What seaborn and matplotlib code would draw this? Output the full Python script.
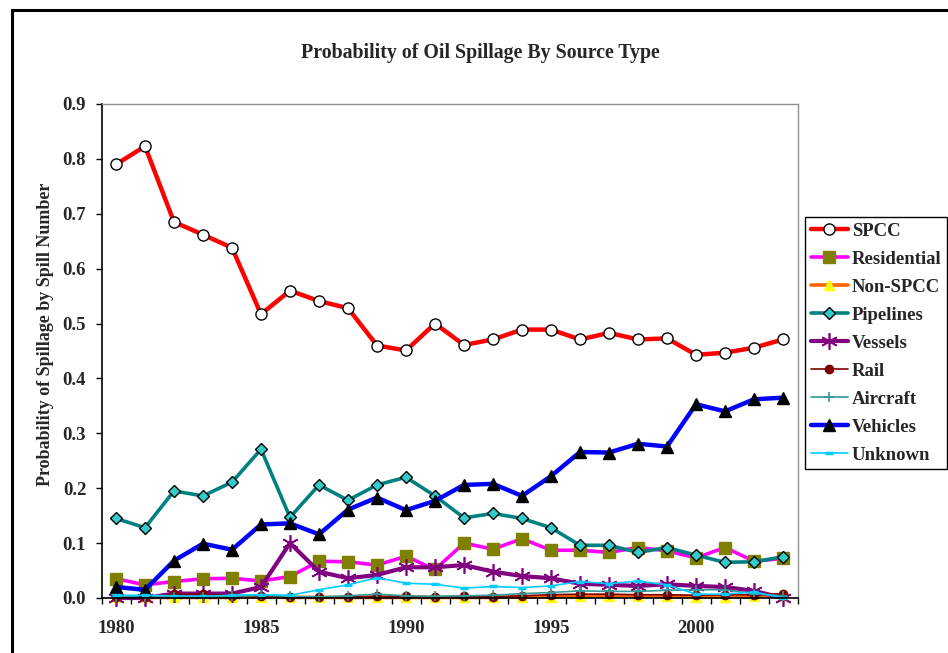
import numpy as np
import pandas as pd
import seaborn as sns
import matplotlib.pyplot as plt
from matplotlib.patches import Rectangle

# Data
years = list(range(1980, 2004))
spcc = [0.790, 0.823, 0.685, 0.662, 0.638, 0.517, 0.560, 0.541, 0.528, 0.460, 0.451, 0.500,
        0.461, 0.471, 0.489, 0.489, 0.471, 0.483, 0.471, 0.473, 0.443, 0.447, 0.456, 0.471]
residential = [0.035, 0.024, 0.030, 0.035, 0.036, 0.031, 0.039, 0.067, 0.066, 0.060, 0.076, 0.052,
               0.100, 0.089, 0.108, 0.087, 0.087, 0.083, 0.092, 0.086, 0.073, 0.092, 0.067, 0.072]
non_spcc = [0.001, 0.001, 0.001, 0.001, 0.001, 0.002, 0.001, 0.001, 0.001, 0.001, 0.001, 0.001,
            0.001, 0.001, 0.002, 0.002, 0.003, 0.003, 0.003, 0.003, 0.002, 0.002, 0.003, 0.003]
pipelines = [0.145, 0.128, 0.195, 0.186, 0.211, 0.271, 0.147, 0.206, 0.178, 0.206, 0.220, 0.186,
             0.146, 0.154, 0.145, 0.128, 0.096, 0.096, 0.083, 0.092, 0.078, 0.065, 0.066, 0.075]
vessels = [0.000, 0.000, 0.008, 0.008, 0.008, 0.020, 0.100, 0.048, 0.036, 0.042, 0.056, 0.056,
           0.060, 0.048, 0.040, 0.036, 0.026, 0.024, 0.022, 0.025, 0.022, 0.020, 0.013, 0.000]
rail = [0.002, 0.001, 0.007, 0.007, 0.004, 0.004, 0.002, 0.001, 0.002, 0.003, 0.003, 0.002,
        0.003, 0.002, 0.004, 0.006, 0.007, 0.007, 0.006, 0.006, 0.005, 0.006, 0.006, 0.008]
aircraft = [0.002, 0.002, 0.002, 0.002, 0.003, 0.005, 0.003, 0.002, 0.004, 0.007, 0.004, 0.003,
            0.004, 0.005, 0.008, 0.010, 0.013, 0.012, 0.012, 0.014, 0.015, 0.015, 0.008, 0.004]
vehicles = [0.020, 0.015, 0.068, 0.099, 0.088, 0.134, 0.136, 0.116, 0.161, 0.183, 0.160, 0.177,
            0.206, 0.208, 0.186, 0.222, 0.266, 0.265, 0.281, 0.276, 0.353, 0.340, 0.362, 0.365]
unknown = [0.005, 0.005, 0.004, 0.003, 0.005, 0.006, 0.005, 0.015, 0.024, 0.037, 0.027, 0.025,
           0.018, 0.021, 0.019, 0.022, 0.030, 0.026, 0.031, 0.024, 0.007, 0.007, 0.011, 0.000]

names = ['SPCC', 'Residential', 'Non-SPCC', 'Pipelines', 'Vessels', 'Rail', 'Aircraft',
         'Vehicles', 'Unknown']
values = [spcc, residential, non_spcc, pipelines, vessels, rail, aircraft, vehicles, unknown]

df = pd.DataFrame({'Year': np.tile(years, len(names)),
                   'Source': np.repeat(names, len(years)),
                   'Probability': np.concatenate(values)})

styles = {
    'SPCC': dict(color='#FF0000', lw=3.2, marker='o', ms=8, mfc='white', mec='black', mew=1.0),
    'Residential': dict(color='#FF00FF', lw=2.6, marker='s', ms=9, mfc='#808000', mec='#808000', mew=1.0),
    'Non-SPCC': dict(color='#FF6600', lw=2.6, marker='^', ms=7, mfc='#FFFF00', mec='#FFFF00', mew=1.0),
    'Pipelines': dict(color='#008080', lw=2.6, marker='D', ms=6, mfc='#33CCCC', mec='black', mew=1.0),
    'Vessels': dict(color='#800080', lw=3.0, marker=(6, 2, 0), ms=12, mfc='#800080', mec='#800080', mew=1.2),
    'Rail': dict(color='#800000', lw=1.2, marker='o', ms=6, mfc='#800000', mec='#800000', mew=1.0),
    'Aircraft': dict(color='#339999', lw=1.2, marker='+', ms=7, mfc='#339999', mec='#339999', mew=1.2),
    'Vehicles': dict(color='#0000FF', lw=3.2, marker='^', ms=9, mfc='black', mec='black', mew=1.0),
    'Unknown': dict(color='#00CCFF', lw=1.2, marker='_', ms=6, mfc='#00CCFF', mec='#00CCFF', mew=2.5),
}

sns.set_style('white')
plt.rcParams['font.family'] = ['Liberation Serif', 'DejaVu Serif']
plt.rcParams['font.weight'] = 'bold'

fig = plt.figure(figsize=(9.48, 6.53), dpi=100)
ax = fig.add_axes([101.5 / 948, 55 / 653, 696 / 948, 494 / 653])

for name in names:
    s = styles[name]
    sns.lineplot(data=df[df['Source'] == name], x='Year', y='Probability', ax=ax,
                 color=s['color'], linewidth=s['lw'], marker=s['marker'], markersize=s['ms'],
                 markerfacecolor=s['mfc'], markeredgecolor=s['mec'], markeredgewidth=s['mew'],
                 label=name, clip_on=False)
if ax.get_legend() is not None:
    ax.get_legend().remove()

ax.set_xlim(1979.5, 2003.5)
ax.set_ylim(0, 0.9)
ax.set_yticks(np.arange(0, 0.91, 0.1))
ax.set_yticklabels([f'{v:.1f}' for v in np.arange(0, 0.91, 0.1)], fontsize=13.5, fontweight='bold')
ax.set_xticks([1980, 1985, 1990, 1995, 2000])
ax.set_xticklabels(['1980', '1985', '1990', '1995', '2000'], fontsize=13.5, fontweight='bold')
ax.set_xticks(np.arange(1979.5, 2004, 1), minor=True)
ax.tick_params(axis='x', which='major', length=0, pad=16)
ax.tick_params(axis='x', which='minor', length=4, width=1, color='black', direction='out', bottom=True)
ax.tick_params(axis='y', length=4, width=1, color='black', direction='out', left=True, pad=7)
for side in ['top', 'right']:
    ax.spines[side].set_color('#909090')
    ax.spines[side].set_linewidth(1.0)
for side in ['left', 'bottom']:
    ax.spines[side].set_color('black')
    ax.spines[side].set_linewidth(1.2)

ax.set_xlabel('')
ax.set_ylabel('Probability of Spillage by Spill Number', fontsize=13, fontweight='bold')
ax.yaxis.set_label_coords((54 - 101.5) / 696, (598 - 334) / 494)
fig.text(480 / 948, 1 - 53 / 653, 'Probability of Oil Spillage By Source Type',
         ha='center', va='center', fontsize=14.3, fontweight='bold')

handles, labels = ax.get_legend_handles_labels()
leg = fig.legend(handles, labels, loc='upper left', bbox_to_anchor=(805 / 948, 1 - 217 / 653),
                 frameon=True, fancybox=False, edgecolor='black', framealpha=1,
                 prop={'size': 13.5, 'weight': 'bold'}, handlelength=2.0, handletextpad=0.2,
                 labelspacing=0.58, borderpad=0.3, borderaxespad=0)
leg.get_frame().set_linewidth(1.0)

# outer chart border
fig.patches.append(Rectangle((12 / 948, -0.5), 2, 1 - 10 / 653 + 0.5, transform=fig.transFigure,
                             fill=False, edgecolor='black', linewidth=2.2, clip_on=False))

fig.savefig('out.png', dpi=100)
